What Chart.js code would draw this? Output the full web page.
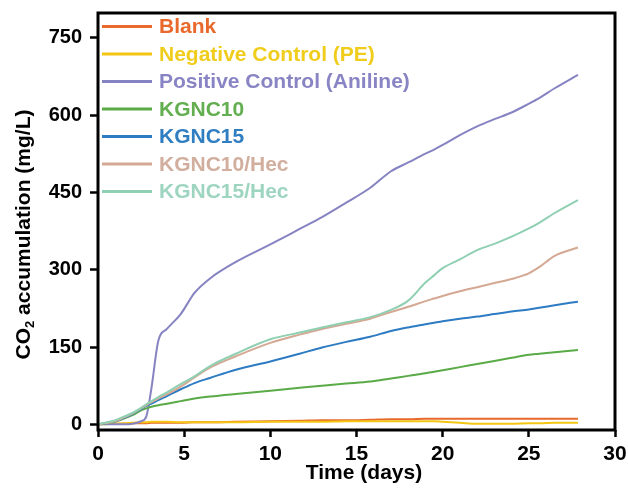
<!DOCTYPE html>
<html>
<head>
<meta charset="utf-8">
<script src="https://cdn.jsdelivr.net/npm/chart.js@4.4.1/dist/chart.umd.min.js"></script>
<style>
  html, body { margin: 0; padding: 0; background: #ffffff; }
  #wrap { width: 628px; height: 489px; position: relative; }
</style>
</head>
<body>
<div id="wrap"><canvas id="c" width="628" height="489"></canvas></div>
<script>
// ---- data ----
const days = [0, 1, 1.5, 2, 2.5, 2.8, 3.1, 3.5, 4, 4.8, 5.6, 6.5, 8, 10, 11.7, 13, 14.4, 15.8, 17, 18, 19, 19.5, 20, 21, 22, 23, 24, 25, 25.6, 26.5, 27.85];

const seriesLabels = ["Blank", "Negative Control (PE)", "Positive Control (Aniline)", "KGNC10", "KGNC15", "KGNC10/Hec", "KGNC15/Hec"];

const blank    = [0, 1, 1, 2, 2, 2, 3, 3, 3, 3, 4, 4, 5, 6, 7, 8, 8, 9, 10, 10, 11, 11, 11, 11, 11, 11, 11, 11, 11, 11, 11];
const negative = [0, 1, 2, 3, 4, 4, 5, 5, 5, 4, 4, 4, 4, 5, 5, 5, 6, 6, 6, 6, 6, 6, 5, 3, 1, 1, 1, 2, 2, 3, 3];
const positive = [0, 0, 0, 1, 6, 15, 70, 162, 185, 214, 255, 283, 315, 349, 379, 402, 430, 459, 491, 508, 525, 533, 542, 561, 578, 592, 605, 622, 633, 652, 678];
const kgnc10   = [0, 5, 11, 18, 27, 31, 34, 37, 40, 45, 50, 54, 59, 65, 71, 75, 79, 83, 89, 94, 99, 102, 105, 111, 117, 123, 129, 135, 137, 140, 144];
const kgnc15   = [0, 6, 12, 20, 30, 36, 40, 47, 55, 68, 80, 90, 106, 122, 137, 149, 160, 170, 181, 188, 194, 197, 200, 205, 209, 214, 219, 223, 226, 231, 238];
const kgnc10h  = [0, 6, 13, 21, 31, 37, 43, 50, 58, 73, 91, 110, 132, 158, 174, 185, 195, 205, 218, 228, 239, 244, 249, 258, 266, 274, 282, 293, 305, 327, 343];
const kgnc15h  = [0, 8, 15, 22, 32, 39, 45, 53, 62, 78, 93, 113, 137, 165, 178, 188, 198, 208, 222, 240, 275, 289, 303, 320, 338, 350, 364, 380, 391, 410, 435];

const xTicks = [0, 5, 10, 15, 20, 25, 30];
const yTicks = [0, 150, 300, 450, 600, 750];

const lineColors = ["#E8692B", "#F3C614", "#8683C2", "#5AAA47", "#2D7CC3", "#D4A893", "#8FCFB2"];
const textColors = ["#E8692B", "#F0CC1C", "#8985C4", "#62AE50", "#2F7EC2", "#D2AE9E", "#9ED5C0"];

const allSeries = [blank, negative, positive, kgnc10, kgnc15, kgnc10h, kgnc15h];

const FONT = "'Liberation Sans', Arial, Helvetica, sans-serif";

const datasets = allSeries.map((vals, i) => ({
  label: seriesLabels[i],
  data: days.map((d, j) => ({ x: d, y: vals[j] })),
  borderColor: lineColors[i],
  backgroundColor: lineColors[i],
  borderWidth: 2,
  pointRadius: 0,
  cubicInterpolationMode: 'monotone',
  fill: false,
  order: 7 - i
}));

const framePlugin = {
  id: 'frame',
  afterDatasetsDraw(chart) {
    const { ctx, chartArea: a } = chart;
    ctx.save();
    ctx.strokeStyle = '#000';
    ctx.lineWidth = 3;
    ctx.strokeRect(a.left, a.top, a.right - a.left, a.bottom - a.top);
    ctx.restore();
  }
};

const legendPlugin = {
  id: 'customLegend',
  afterDraw(chart) {
    const ctx = chart.ctx;
    ctx.save();
    ctx.font = "bold 21px " + FONT;
    ctx.textBaseline = 'middle';
    ctx.textAlign = 'left';
    seriesLabels.forEach((lab, i) => {
      const y = 26.5 + i * 27.5;
      ctx.strokeStyle = lineColors[i];
      ctx.lineWidth = 3;
      ctx.beginPath();
      ctx.moveTo(102, y);
      ctx.lineTo(152, y);
      ctx.stroke();
      ctx.fillStyle = textColors[i];
      ctx.fillText(lab, 159, y + 1);
    });
    ctx.restore();
  }
};

const titlesPlugin = {
  id: 'axisTitles',
  afterDraw(chart) {
    const ctx = chart.ctx;
    ctx.save();
    ctx.fillStyle = '#000';
    ctx.font = "bold 21px " + FONT;
    ctx.textAlign = 'center';
    ctx.textBaseline = 'alphabetic';
    ctx.fillText("Time (days)", 364, 479);
    const big = "bold 21px " + FONT;
    const small = "bold 13px " + FONT;
    ctx.font = big;
    const w1 = ctx.measureText("CO").width;
    const w3 = ctx.measureText(" accumulation (mg/L)").width;
    ctx.font = small;
    const w2 = ctx.measureText("2").width;
    const total = w1 + w2 + w3;
    ctx.translate(22, 234.5);
    ctx.rotate(-Math.PI / 2);
    ctx.textAlign = 'left';
    let x0 = -total / 2;
    ctx.font = big;
    ctx.fillText("CO", x0, 7.5);
    ctx.font = small;
    ctx.fillText("2", x0 + w1, 11.5);
    ctx.font = big;
    ctx.fillText(" accumulation (mg/L)", x0 + w1 + w2, 7.5);
    ctx.restore();
  }
};

function zeroPad(s) {
  s.paddingTop = 0; s.paddingBottom = 0; s.paddingLeft = 0; s.paddingRight = 0;
}

new Chart(document.getElementById('c'), {
  type: 'line',
  data: { datasets },
  options: {
    responsive: false,
    animation: false,
    devicePixelRatio: 1,
    layout: { padding: { top: 13, right: 13, left: 0, bottom: 0 } },
    plugins: { legend: { display: false }, tooltip: { enabled: false } },
    scales: {
      x: {
        type: 'linear',
        min: 0,
        max: 30,
        afterBuildTicks: (s) => { s.ticks = xTicks.map(v => ({ value: v })); },
        afterFit: (s) => { s.height = 59; zeroPad(s); },
        border: { display: false },
        grid: { drawOnChartArea: false, drawTicks: true, tickLength: 7, tickWidth: 2.5, tickColor: '#000' },
        ticks: { color: '#000', font: { family: FONT, size: 21, weight: 'bold' }, padding: 5, maxRotation: 0 },
        title: { display: false }
      },
      y: {
        type: 'linear',
        min: -11,
        max: 798,
        afterBuildTicks: (s) => { s.ticks = yTicks.map(v => ({ value: v })); },
        afterFit: (s) => { s.width = 98; zeroPad(s); },
        border: { display: false },
        grid: { drawOnChartArea: false, drawTicks: true, tickLength: 8, tickWidth: 2.5, tickColor: '#000' },
        ticks: { color: '#000', font: { family: FONT, size: 20, weight: 'bold' }, padding: 8 },
        title: { display: false }
      }
    }
  },
  plugins: [framePlugin, legendPlugin, titlesPlugin]
});
</script>
</body>
</html>
